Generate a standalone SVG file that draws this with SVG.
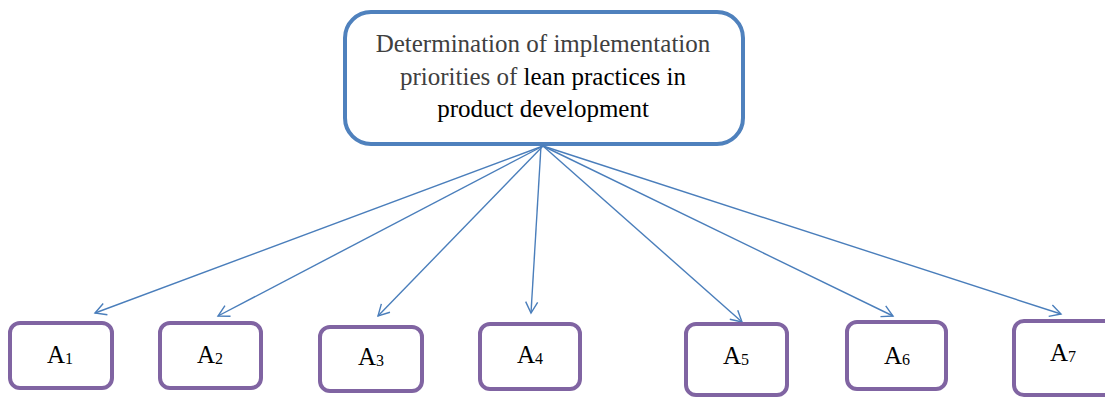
<svg xmlns="http://www.w3.org/2000/svg" width="1105" height="398" viewBox="0 0 1105 398">
<style>
.top{fill:#fff;stroke:#4f81bd;stroke-width:4}
.box{fill:#fff;stroke:#8064a2;stroke-width:4}
.t{font-family:"Liberation Serif","Times New Roman",serif;font-size:25px;text-anchor:middle}
.lbl{font-family:"Liberation Serif","Times New Roman",serif;font-size:25px;fill:#000;text-anchor:middle}
.conn line{stroke:#4a7ebb;stroke-width:1.4;marker-end:url(#arr)}
</style>
<defs>
<marker id="arr" viewBox="0 0 14 14" refX="12" refY="7" markerWidth="14" markerHeight="14" markerUnits="userSpaceOnUse" orient="auto">
<path d="M1,1 L12,7 L1,13" fill="none" stroke="#4a7ebb" stroke-width="1.4"/>
</marker>
</defs>
<g id="top">
<rect class="top" x="345" y="12" width="398" height="132" rx="26"/>
<text class="t" x="543" y="52" fill="#404040">Determination of implementation</text>
<text class="t" x="543" y="85"><tspan fill="#404040">priorities of</tspan><tspan fill="#000"> lean practices in</tspan></text>
<text class="t" x="543" y="117" fill="#000">product development</text>
</g>
<g id="connectors" class="conn">
<line x1="543" y1="146" x2="95" y2="313"/>
<line x1="543" y1="146" x2="218" y2="316"/>
<line x1="543" y1="146" x2="378" y2="316"/>
<line x1="541" y1="146" x2="531" y2="313"/>
<line x1="543" y1="146" x2="742" y2="322"/>
<line x1="543" y1="146" x2="893" y2="316"/>
<line x1="543" y1="146" x2="1061" y2="314"/>
</g>
<g id="A1"><rect class="box" x="10" y="323" width="102" height="65" rx="10"/><text class="lbl" x="60" y="363">A<tspan font-size="16" dy="1">1</tspan></text></g>
<g id="A2"><rect class="box" x="160" y="323" width="101" height="65" rx="10"/><text class="lbl" x="210" y="363">A<tspan font-size="16" dy="1">2</tspan></text></g>
<g id="A3"><rect class="box" x="320" y="327" width="102" height="64" rx="10"/><text class="lbl" x="371" y="365">A<tspan font-size="16" dy="1">3</tspan></text></g>
<g id="A4"><rect class="box" x="480" y="324" width="100" height="65" rx="10"/><text class="lbl" x="530" y="363">A<tspan font-size="16" dy="1">4</tspan></text></g>
<g id="A5"><rect class="box" x="686" y="324" width="101" height="71" rx="10"/><text class="lbl" x="736" y="364">A<tspan font-size="16" dy="1">5</tspan></text></g>
<g id="A6"><rect class="box" x="847" y="322" width="99" height="67" rx="10"/><text class="lbl" x="897" y="364">A<tspan font-size="16" dy="1">6</tspan></text></g>
<g id="A7"><rect class="box" x="1014" y="321" width="100" height="74" rx="10"/><text class="lbl" x="1063" y="361">A<tspan font-size="16" dy="1">7</tspan></text></g>
</svg>
